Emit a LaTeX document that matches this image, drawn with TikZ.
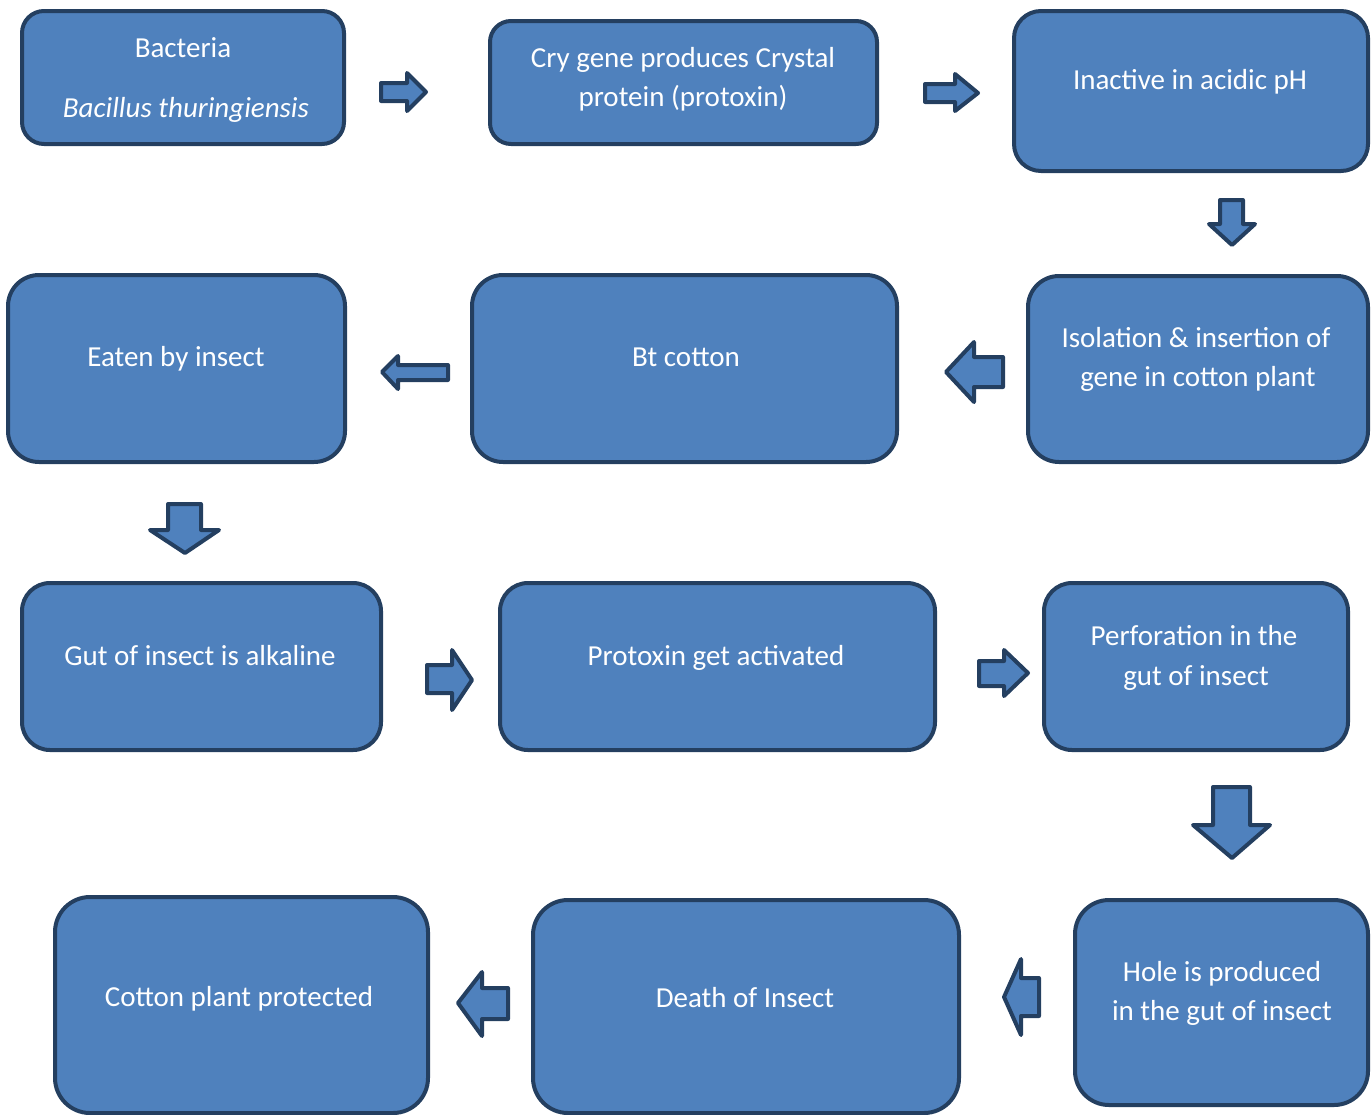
\documentclass[tikz,border=0pt]{standalone}
\usepackage{fontspec}
\setmainfont{Carlito}
\definecolor{boxfill}{HTML}{4F81BD}
\definecolor{boxline}{HTML}{243F60}
\tikzset{
  stepbox/.style={draw=boxline, fill=boxfill, line width=4pt, inner sep=0pt, outer sep=0pt, rectangle},
  lbl/.style={text=white, font=\fontsize{29}{35}\selectfont, anchor=base, inner sep=0pt},
  blockarrow/.style={draw=boxline, fill=boxfill, line width=4pt, line join=round},
}
\begin{document}
\begin{tikzpicture}[x=1pt, y=-1pt]
\useasboundingbox (0,0) rectangle (1372,1114);
% boxes
\node[stepbox, minimum width=322pt, minimum height=133pt, rounded corners=22pt] (bact)  at (183,77.5) {};
\node[stepbox, minimum width=387pt, minimum height=123pt, rounded corners=21pt] (cry)   at (683.5,82.5) {};
\node[stepbox, minimum width=354pt, minimum height=160pt, rounded corners=27pt] (inact) at (1191,91) {};
\node[stepbox, minimum width=340pt, minimum height=186pt, rounded corners=31pt] (iso)   at (1198,369) {};
\node[stepbox, minimum width=425pt, minimum height=187pt, rounded corners=31pt] (bt)    at (684.5,368.5) {};
\node[stepbox, minimum width=337pt, minimum height=187pt, rounded corners=31pt] (eaten) at (176.5,368.5) {};
\node[stepbox, minimum width=359pt, minimum height=167pt, rounded corners=28pt] (gut)   at (201.5,666.5) {};
\node[stepbox, minimum width=435pt, minimum height=167pt, rounded corners=28pt] (prot)  at (717.5,666.5) {};
\node[stepbox, minimum width=304pt, minimum height=167pt, rounded corners=28pt] (perf)  at (1196,666.5) {};
\node[stepbox, minimum width=293pt, minimum height=205pt, rounded corners=34pt] (hole)  at (1221.5,1002.5) {};
\node[stepbox, minimum width=426pt, minimum height=213pt, rounded corners=35pt] (death) at (746,1006.5) {};
\node[stepbox, minimum width=373pt, minimum height=216pt, rounded corners=35pt] (cotton) at (241.5,1005) {};
% texts
\node[lbl] (t1a) at (183,57) {Bacteria};
\node[lbl] (t1b) at (186,117) {\itshape Bacillus thuringiensis};
\node[lbl] (t2a) at (683,67) {Cry gene produces Crystal};
\node[lbl] (t2b) at (683,106) {protein (protoxin)};
\node[lbl] (t3) at (1190,89) {Inactive in acidic pH};
\node[lbl] (t4a) at (1196,347) {Isolation \& insertion of};
\node[lbl] (t4b) at (1198,386) {gene in cotton plant};
\node[lbl] (t5) at (686,366) {Bt cotton};
\node[lbl] (t6) at (176,366) {Eaten by insect};
\node[lbl] (t7) at (200,665) {Gut of insect is alkaline};
\node[lbl] (t8) at (716,665) {Protoxin get activated};
\node[lbl] (t9a) at (1194,645) {Perforation in the};
\node[lbl] (t9b) at (1196,685) {gut of insect};
\node[lbl] (t10a) at (1222,981) {Hole is produced};
\node[lbl] (t10b) at (1222,1020) {in the gut of insect};
\node[lbl] (t11) at (745,1007) {Death of Insect};
\node[lbl] (t12) at (239,1006) {Cotton plant protected};
% block arrows
\draw[blockarrow] (381,83)--(407,83)--(407,73)--(426,92)--(407,111)--(407,101)--(381,101)--cycle;
\draw[blockarrow] (925,84)--(955,84)--(955,74)--(978,93)--(955,111)--(955,102)--(925,102)--cycle;
\draw[blockarrow] (1220,200)--(1243,200)--(1243,224)--(1255,224)--(1232,245)--(1209,224)--(1220,224)--cycle;
\draw[blockarrow] (946,372)--(974,342)--(974,357)--(1003,357)--(1003,387)--(974,387)--(974,402)--cycle;
\draw[blockarrow] (382,372)--(398,356)--(398,365)--(448,365)--(448,380)--(398,380)--(398,389)--cycle;
\draw[blockarrow] (168,504)--(201,504)--(201,530)--(219,530)--(185,553)--(150,530)--(168,530)--cycle;
\draw[blockarrow] (427,665)--(452,665)--(452,650)--(472,680)--(452,710)--(452,693)--(427,693)--cycle;
\draw[blockarrow] (979,661)--(1004,661)--(1004,650)--(1028,673)--(1004,696)--(1004,686)--(979,686)--cycle;
\draw[blockarrow] (1213,787)--(1250,787)--(1250,825)--(1270,825)--(1232,858)--(1193,825)--(1213,825)--cycle;
\draw[blockarrow] (1004,997)--(1021,959)--(1021,978)--(1039,978)--(1039,1016)--(1021,1016)--(1021,1035)--cycle;
\draw[blockarrow] (458,1003)--(482,972)--(482,988)--(508,988)--(508,1019)--(482,1019)--(482,1036)--cycle;
\end{tikzpicture}
\end{document}
